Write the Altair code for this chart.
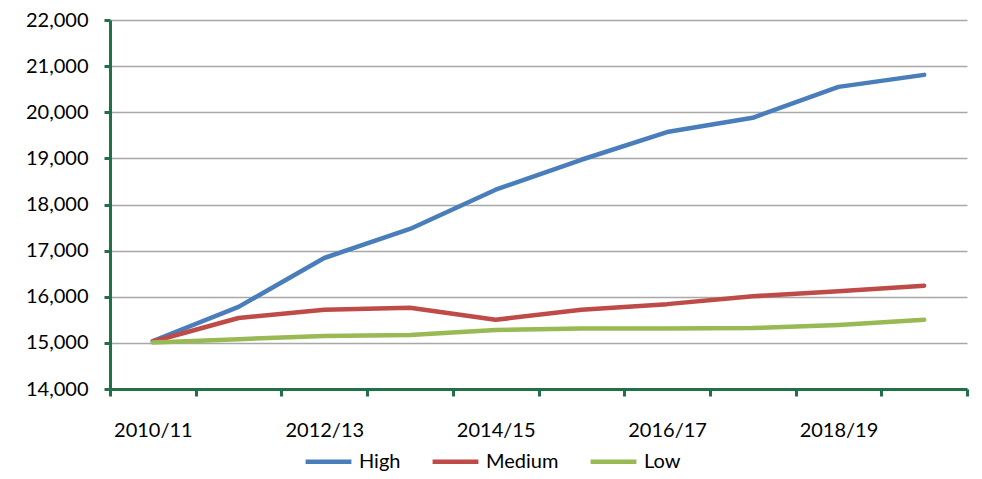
import altair as alt
import pandas as pd

years = ["2010/11", "2011/12", "2012/13", "2013/14", "2014/15",
         "2015/16", "2016/17", "2017/18", "2018/19", "2019/20"]
high = [15040, 15780, 16840, 17470, 18320, 18970, 19570, 19880, 20550, 20810]
medium = [15030, 15540, 15720, 15760, 15500, 15720, 15840, 16010, 16120, 16240]
low = [15010, 15080, 15150, 15170, 15280, 15310, 15310, 15320, 15390, 15500]
series = ["High", "Medium", "Low"]
colors = ["#4A7EBB", "#BE4B48", "#98B954"]

rows = []
for name, vals in zip(series, [high, medium, low]):
    for i, (y, v) in enumerate(zip(years, vals)):
        rows.append({"Year": y, "Series": name, "Value": v, "order": i})
df = pd.DataFrame(rows)

FONT = "Lato"
GREEN = "#20704A"

chart = alt.Chart(df).mark_line(strokeWidth=4.5, strokeCap="round", strokeJoin="round").encode(
    x=alt.X("Year:N", sort=years, title=None,
            scale=alt.Scale(type="band", paddingInner=0, paddingOuter=0),
            axis=alt.Axis(tickBand="extent", labelAngle=0, domainColor=GREEN, domainWidth=3,
                          tickColor=GREEN, tickWidth=3, tickSize=7, labelPadding=24,
                          labelFont=FONT, labelFontSize=20, labelColor="#000000",
                          grid=False,
                          labelExpr="indexof(['2010/11','2012/13','2014/15','2016/17','2018/19'], datum.value) >= 0 ? datum.value : ''")),
    y=alt.Y("Value:Q", title=None,
            scale=alt.Scale(domain=[14000, 22000], nice=False, zero=False),
            axis=alt.Axis(values=list(range(14000, 22001, 1000)), format=",.0f",
                          domainColor=GREEN, domainWidth=3, tickColor=GREEN, tickWidth=3,
                          tickSize=6, labelPadding=16, labelFont=FONT, labelFontSize=20,
                          labelColor="#000000", gridColor="#A8A8A8", gridWidth=1.5)),
    color=alt.Color("Series:N", sort=series,
                    scale=alt.Scale(domain=series, range=colors),
                    legend=alt.Legend(title=None, orient="none", direction="horizontal",
                                      legendX=193, legendY=416, symbolType="stroke",
                                      symbolSize=2100, symbolStrokeWidth=4.5,
                                      labelFont=FONT, labelFontSize=20, labelColor="#000000",
                                      columnPadding=22, labelOffset=5, padding=0)),
    order="order:Q",
).properties(
    width=857, height=369,
    autosize=alt.AutoSizeParams(type="none"),
    padding={"left": 102, "top": 12, "right": 7, "bottom": 82},
).configure(background="#FFFFFF").configure_view(stroke=None, strokeWidth=0)

chart.save("out.html", embed_options={"renderer": "svg", "actions": False})
